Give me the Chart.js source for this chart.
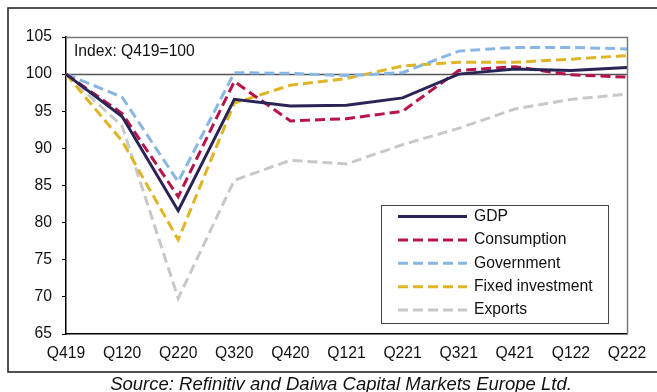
<!DOCTYPE html>
<html>
<head>
<meta charset="utf-8">
<script src="https://cdn.jsdelivr.net/npm/chart.js@4.4.1/dist/chart.umd.min.js"></script>
<style>
  html, body { margin: 0; padding: 0; background: #ffffff; }
  #wrap { position: relative; width: 657px; height: 392px; overflow: hidden; }
  canvas { display: block; }
</style>
</head>
<body>
<div id="wrap"><canvas id="chart" width="657" height="392"></canvas></div>
<script>
// Quarterly index, Q4 2019 = 100
const quarters = ['Q419', 'Q120', 'Q220', 'Q320', 'Q420', 'Q121', 'Q221', 'Q321', 'Q421', 'Q122', 'Q222'];
const gdp             = [100, 94.3, 81.6, 96.6, 95.7, 95.8, 96.8, 100.0, 100.7, 100.5, 100.9];
const consumption     = [100, 94.7, 83.5, 99.0, 93.7, 94.0, 95.0, 100.5, 101.0, 99.9, 99.6];
const government      = [100, 96.9, 85.5, 100.2, 100.1, 99.8, 100.2, 103.1, 103.6, 103.6, 103.4];
const fixedInvestment = [100, 91.0, 77.7, 96.1, 98.5, 99.4, 101.1, 101.6, 101.6, 102.0, 102.5];
const exportsSeries   = [100, 93.0, 69.8, 85.7, 88.4, 87.9, 90.5, 92.7, 95.3, 96.6, 97.3];
const yTicks = [65, 70, 75, 80, 85, 90, 95, 100, 105];
const baseLevel = 100;
const indexNote = 'Index: Q419=100';
const sourceNote = 'Source: Refinitiv and Daiwa Capital Markets Europe Ltd.';

const FONT = '"Liberation Sans", Arial, sans-serif';
const TEXT_SIZE = 15.7;
const DASH = [10, 5];

function series(label, data, color, dashed) {
  return {
    label, data,
    borderColor: color,
    backgroundColor: color,
    borderWidth: 3,
    borderDash: dashed ? DASH : [],
    borderCapStyle: 'butt',
    borderJoinStyle: 'miter',
    pointRadius: 0,
    pointHoverRadius: 0,
    tension: 0,
    fill: false,
    clip: false
  };
}

const datasets = [
  series('GDP', gdp, '#2a2456', false),
  series('Consumption', consumption, '#b8144a', true),
  series('Government', government, '#88b7e3', true),
  series('Fixed investment', fixedInvestment, '#dfb526', true),
  series('Exports', exportsSeries, '#c8c8c8', true)
];

// Reference line at the base level, drawn under the series
const baseLine = {
  id: 'baseLine',
  beforeDatasetsDraw(chart) {
    const { ctx, chartArea: a, scales: { y } } = chart;
    const py = Math.round(y.getPixelForValue(baseLevel)) + 0.5;
    ctx.save();
    ctx.strokeStyle = '#555555';
    ctx.lineWidth = 1.5;
    ctx.beginPath();
    ctx.moveTo(a.left, py);
    ctx.lineTo(a.right, py);
    ctx.stroke();
    ctx.restore();
  }
};

// Frame, notes and the boxed legend
const decorations = {
  id: 'decorations',
  afterDraw(chart) {
    const { ctx, chartArea: a } = chart;
    ctx.save();

    // plot box: grey top and right edges
    ctx.strokeStyle = '#7a7a7a';
    ctx.lineWidth = 1.5;
    ctx.beginPath();
    ctx.moveTo(a.left, a.top + 0.5);
    ctx.lineTo(a.right + 0.5, a.top + 0.5);
    ctx.lineTo(a.right + 0.5, a.bottom);
    ctx.stroke();

    // outer frame
    ctx.strokeStyle = '#1a1a1a';
    ctx.lineWidth = 1.5;
    ctx.beginPath();
    ctx.moveTo(657, 8);
    ctx.lineTo(8, 8);
    ctx.lineTo(8, 372);
    ctx.lineTo(657, 372);
    ctx.stroke();

    // index note
    ctx.fillStyle = '#111111';
    ctx.font = TEXT_SIZE + 'px ' + FONT;
    ctx.textAlign = 'left';
    ctx.textBaseline = 'middle';
    ctx.fillText(indexNote, a.left + 8, a.top + 15);

    // legend box
    const bx = 381, by = 205, bw = 227, bh = 118;
    ctx.fillStyle = '#ffffff';
    ctx.fillRect(bx, by, bw, bh);
    ctx.strokeStyle = '#444444';
    ctx.lineWidth = 1;
    ctx.strokeRect(bx + 0.5, by + 0.5, bw, bh);
    chart.data.datasets.forEach((ds, i) => {
      const ry = 216.5 + i * 23.4;
      ctx.strokeStyle = ds.borderColor;
      ctx.lineWidth = 3;
      ctx.lineCap = 'butt';
      ctx.setLineDash(ds.borderDash);
      ctx.beginPath();
      ctx.moveTo(398, ry);
      ctx.lineTo(467, ry);
      ctx.stroke();
      ctx.setLineDash([]);
      ctx.fillStyle = '#111111';
      ctx.font = TEXT_SIZE + 'px ' + FONT;
      ctx.textAlign = 'left';
      ctx.textBaseline = 'middle';
      ctx.fillText(ds.label, 474, ry);
    });

    // source line
    ctx.fillStyle = '#111111';
    ctx.font = 'italic 18.5px ' + FONT;
    ctx.textAlign = 'center';
    ctx.textBaseline = 'alphabetic';
    ctx.fillText(sourceNote, 341, 390);

    ctx.restore();
  }
};

new Chart(document.getElementById('chart'), {
  type: 'line',
  data: { labels: quarters, datasets },
  options: {
    responsive: false,
    animation: false,
    events: [],
    layout: { padding: { left: 0, top: 37, right: 30, bottom: 28 } },
    plugins: { legend: { display: false }, tooltip: { enabled: false }, title: { display: false } },
    scales: {
      x: {
        offset: false,
        afterFit(scale) { scale.height = 30; },
        grid: { display: false, drawTicks: false },
        border: { display: true, color: '#000000', width: 1.5 },
        ticks: {
          color: '#111111',
          font: { family: FONT, size: TEXT_SIZE },
          padding: 10,
          maxRotation: 0,
          autoSkip: false
        }
      },
      y: {
        min: yTicks[0],
        max: yTicks[yTicks.length - 1],
        afterFit(scale) { scale.width = 66; },
        afterBuildTicks(scale) { scale.ticks = yTicks.map(v => ({ value: v })); },
        grid: { drawOnChartArea: false, drawTicks: true, tickLength: 4, color: '#000000' },
        border: { display: true, color: '#000000', width: 1.5 },
        ticks: {
          color: '#111111',
          font: { family: FONT, size: TEXT_SIZE },
          padding: 10
        }
      }
    }
  },
  plugins: [baseLine, decorations]
});
</script>
</body>
</html>
